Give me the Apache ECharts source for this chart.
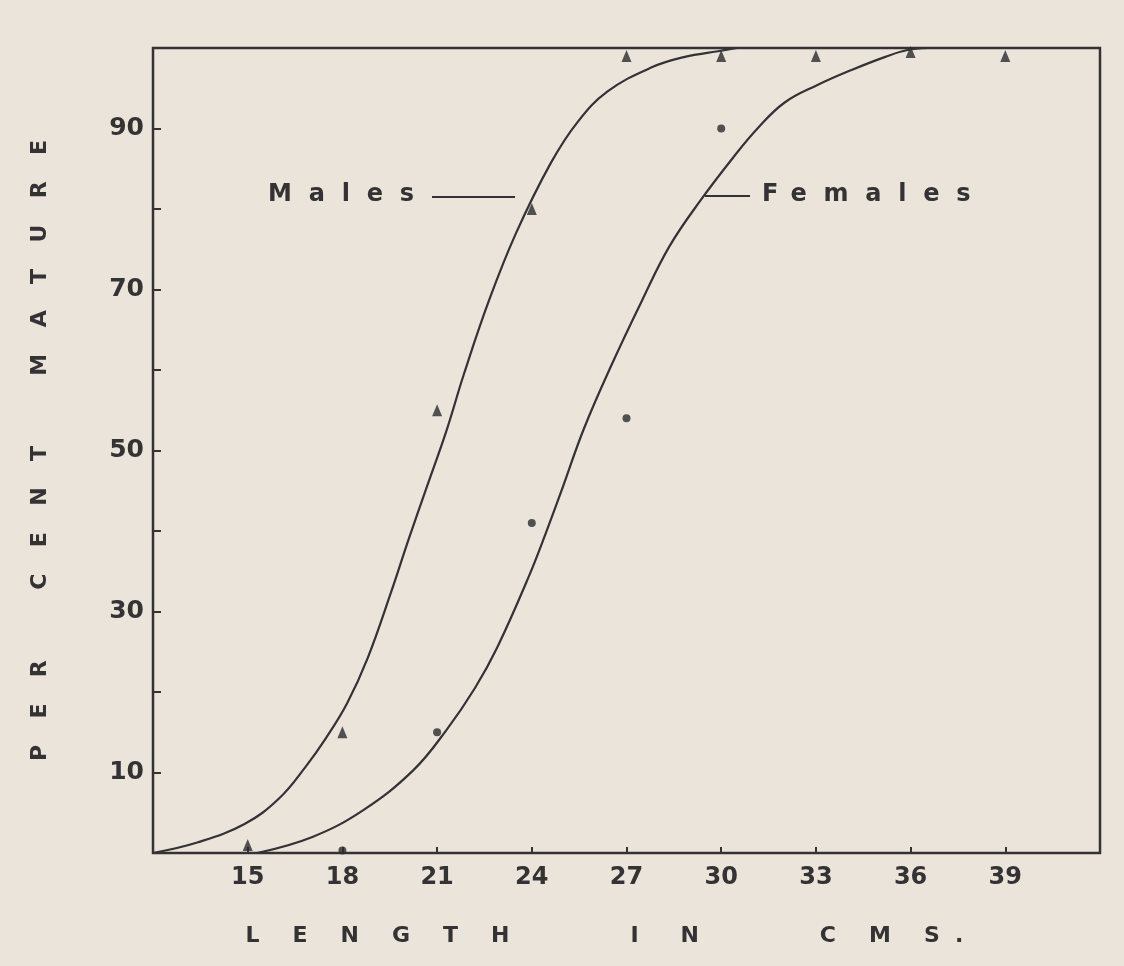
<!DOCTYPE html>
<html>
<head>
<meta charset="utf-8">
<script src="https://cdn.jsdelivr.net/npm/echarts@6/dist/echarts.min.js"></script>
<style>
  html, body { margin: 0; padding: 0; background: #ebe4db; }
  #chart { width: 1124px; height: 966px; }
</style>
</head>
<body>
<div id="chart"></div>
<script>
// ---- axis settings / tick labels ----
const xMin = 12, xMax = 42, xStep = 3;
const yMin = 0, yMax = 100, yStep = 10;
const xTickLabels = [15, 18, 21, 24, 27, 30, 33, 36, 39];
const yTickLabels = [10, 30, 50, 70, 90];

// ---- fitted curves ----
const malesCurveX = [12, 13.4, 14.9, 16.0, 16.85, 17.5, 18.15, 18.8, 19.55, 20.1, 20.65, 21.3, 21.85, 22.65, 23.5, 24.6, 25.45, 26.4, 27.8, 28.85, 29.9, 30.5];
const malesCurveY = [0, 1.3, 3.6, 6.8, 10.8, 14.4, 18.6, 24.2, 32.5, 39.0, 45.2, 52.5, 59.5, 68.7, 77.0, 85.7, 90.8, 94.6, 97.6, 98.9, 99.6, 100];
const femalesCurveX = [15.3, 17.05, 18.65, 20.25, 21.3, 22.2, 22.9, 23.9, 24.45, 24.95, 25.65, 26.5, 27.5, 28.35, 29.35, 30.4, 31.15, 32.0, 33.05, 34.15, 35.2, 35.9, 36.55];
const femalesCurveY = [0, 2.0, 5.3, 10.3, 15.3, 20.5, 25.5, 34.3, 39.8, 45.1, 52.7, 60.4, 68.7, 75.3, 81.1, 86.5, 90.0, 93.2, 95.4, 97.3, 98.9, 99.75, 100];

// ---- observed points ----
const malesObsX = [15, 18, 21, 24, 27, 30, 33, 36, 39];
const malesObsY = [1, 15, 55, 80, 99, 99, 99, 99.5, 99];
const femalesObsX = [18, 21, 24, 27, 30];
const femalesObsY = [0.3, 15, 41, 54, 90];

const ink = '#343232';
const font = 'DejaVu Sans';

function zip(a, b) { return a.map((v, i) => [v, b[i]]); }
function spaced(word, gap) { return word.split('').join(gap); }

const LG = '\u2003\u2002';
const xName = spaced('LENGTH', LG) + '\u2003\u2003\u2003\u2003\u2003\u2002' +
  spaced('IN', LG + '\u2009\u2009') + '\u2003\u2003\u2003\u2003\u2003\u2002' +
  'C' + LG + 'M' + LG + 'S\u2002\u2009.';
const yName = ['PER', 'CENT', 'MATURE'].map(w => spaced(w, '\u2003\u2009')).join('\u2003\u2003\u2003\u2009');

const chart = echarts.init(document.getElementById('chart'), null, { renderer: 'canvas' });

chart.setOption({
  backgroundColor: '#ebe4db',
  animation: false,
  grid: {
    left: 153, right: 24, top: 48, bottom: 113,
    show: true, borderColor: ink, borderWidth: 2.5, backgroundColor: 'transparent'
  },
  xAxis: {
    type: 'value', min: xMin, max: xMax, interval: xStep,
    splitLine: { show: false },
    axisLine: { show: false },
    axisTick: { show: true, inside: true, length: 6, lineStyle: { color: ink, width: 2 } },
    axisLabel: {
      showMinLabel: false, showMaxLabel: false, margin: 13,
      color: ink, fontFamily: font, fontWeight: 'bold', fontSize: 24,
      formatter: v => xTickLabels.includes(v) ? String(v) : ''
    },
    name: xName, nameLocation: 'middle', nameGap: 72,
    nameTextStyle: { color: ink, fontFamily: font, fontWeight: 'bold', fontSize: 22, padding: [0, 44, 0, 0] }
  },
  yAxis: {
    type: 'value', min: yMin, max: yMax, interval: yStep,
    splitLine: { show: false },
    axisLine: { show: false },
    axisTick: { show: true, inside: true, length: 8, lineStyle: { color: ink, width: 2 } },
    axisLabel: {
      margin: 9, color: ink, fontFamily: font, fontWeight: 'bold', fontSize: 25,
      formatter: v => yTickLabels.includes(v) ? String(v) : ''
    },
    name: yName, nameLocation: 'middle', nameGap: 102, nameRotate: 90,
    nameTextStyle: { color: ink, fontFamily: font, fontWeight: 'bold', fontSize: 22 }
  },
  graphic: [
    { type: 'text', left: 268, top: 183, style: { text: 'M\u2002\u2009a\u2002\u2009l\u2002\u2009e\u2002\u2009s', fill: ink, font: 'bold 24px "DejaVu Sans"' } },
    { type: 'line', shape: { x1: 432, y1: 197, x2: 515, y2: 197 }, style: { stroke: ink, lineWidth: 2 } },
    { type: 'line', shape: { x1: 705, y1: 196, x2: 750, y2: 196 }, style: { stroke: ink, lineWidth: 2 } },
    { type: 'text', left: 762, top: 183, style: { text: 'F\u2002e\u2002\u2009m\u2002\u2009a\u2002\u2009l\u2002\u2009e\u2002\u2009s', fill: ink, font: 'bold 24px "DejaVu Sans"' } }
  ],
  series: [
    {
      name: 'Males', type: 'line', data: zip(malesCurveX, malesCurveY),
      smooth: 0.4, showSymbol: false, lineStyle: { color: ink, width: 2.2 }
    },
    {
      name: 'Females', type: 'line', data: zip(femalesCurveX, femalesCurveY),
      smooth: 0.4, showSymbol: false, lineStyle: { color: ink, width: 2.2 }
    },
    {
      name: 'Males observed', type: 'scatter', data: zip(malesObsX, malesObsY),
      symbol: 'triangle', symbolSize: [10, 12], itemStyle: { color: '#2c2a2a' }
    },
    {
      name: 'Females observed', type: 'scatter', data: zip(femalesObsX, femalesObsY),
      symbol: 'circle', symbolSize: 8, itemStyle: { color: '#2c2a2a' }
    }
  ]
});
</script>
</body>
</html>
